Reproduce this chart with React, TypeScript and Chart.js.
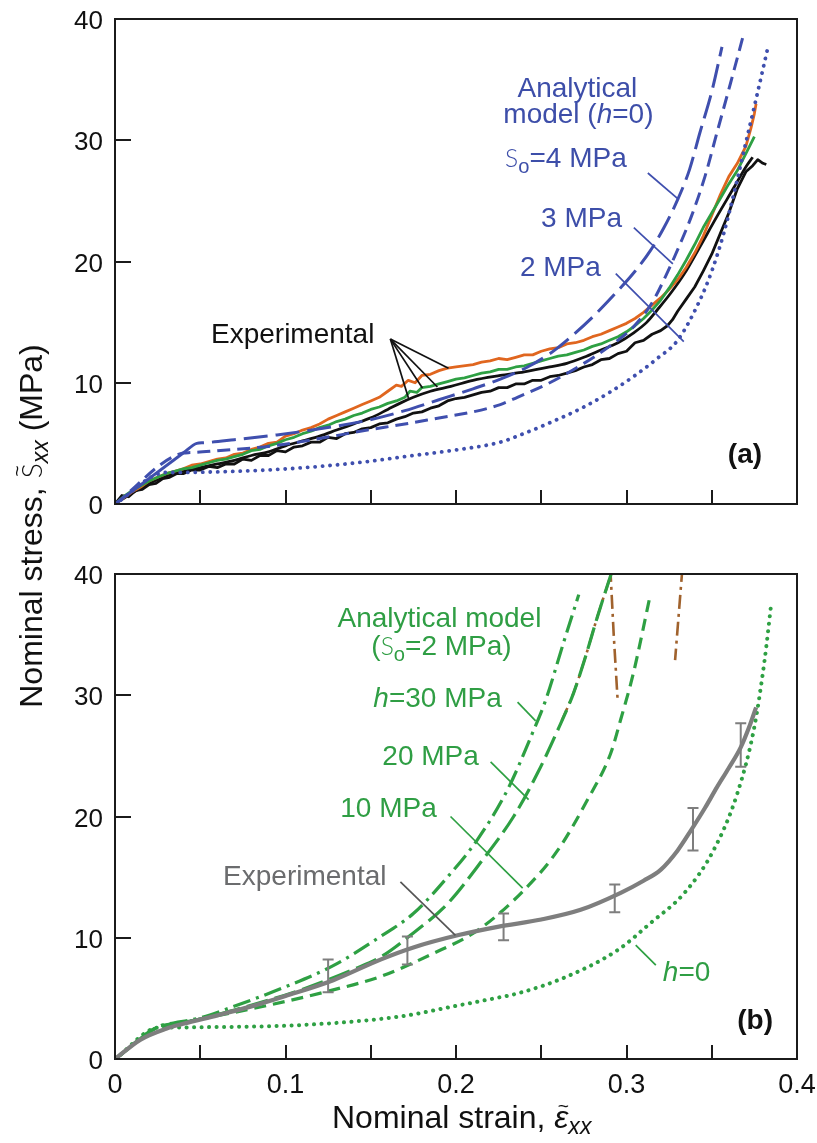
import React, { useEffect, useRef } from "react";
import { Chart, registerables } from "chart.js";

Chart.register(...registerables);

type P = [number, number];

// ---------- axes ----------
const X_MIN = 0;
const X_MAX = 0.4;
const Y_MIN = 0;
const Y_MAX = 40;
const X_TICK_VALUES = [0, 0.1, 0.2, 0.3, 0.4];
const X_TICK_LABELS = ["0", "0.1", "0.2", "0.3", "0.4"];
const X_TICK_MARKS = [0.05, 0.1, 0.15, 0.2, 0.25, 0.3, 0.35];
const Y_TICK_VALUES = [0, 10, 20, 30, 40];
const Y_TICK_LABELS = ["0", "10", "20", "30", "40"];
const Y_TICK_MARKS = [10, 20, 30];

// ---------- panel (a): analytical model, h = 0 ----------
const A_ELASTIC: P[] = [[0, 0], [0.04, 4.2]];
const A_MODEL_S4: P[] = [
  [0.04, 4.2], [0.048, 5.0], [0.052, 5.05], [0.07, 5.3], [0.095, 5.7], [0.12, 6.2], [0.148, 6.9], [0.17, 7.7],
  [0.19, 8.6], [0.21, 9.5], [0.226, 10.3], [0.242, 11.3], [0.255, 12.4], [0.265, 13.5], [0.28, 15.4],
  [0.295, 17.6], [0.305, 19.2], [0.314, 20.9], [0.322, 22.8], [0.33, 25.1], [0.337, 27.6],
  [0.343, 30.6], [0.35, 34.0], [0.356, 37.7],
];
const A_MODEL_S3: P[] = [
  [0, 0], [0.04, 4.2], [0.044, 4.24], [0.06, 4.4], [0.093, 4.8], [0.12, 5.4], [0.148, 6.1], [0.17, 6.6], [0.19, 7.1],
  [0.21, 7.6], [0.226, 8.2], [0.236, 8.8], [0.255, 10.0], [0.275, 11.6], [0.29, 13.0], [0.304, 14.6],
  [0.315, 16.6], [0.324, 19.1], [0.331, 21.3], [0.338, 23.7], [0.346, 27.0], [0.353, 30.6],
  [0.361, 34.7], [0.369, 38.9],
];
const A_MODEL_S2: P[] = [
  [0, 0], [0.03, 2.6], [0.034, 2.6], [0.05, 2.62], [0.089, 2.8], [0.12, 3.1], [0.148, 3.5], [0.175, 4.0], [0.197, 4.4],
  [0.226, 5.1], [0.236, 5.6], [0.255, 6.7], [0.275, 8.0], [0.29, 9.2], [0.304, 10.5], [0.318, 12.0],
  [0.33, 13.5], [0.343, 16.8], [0.35, 19.2], [0.357, 22.3], [0.363, 25.6], [0.369, 29.2],
  [0.376, 33.4], [0.383, 37.7],
];

// ---------- panel (a): experimental ----------
const A_EXP_ORANGE: P[] = [
  [0, 0], [0.005, 0.5], [0.01, 1.0], [0.015, 1.4], [0.02, 1.9], [0.025, 2.2], [0.03, 2.5], [0.035, 2.7],
  [0.04, 2.9], [0.045, 3.2], [0.05, 3.3], [0.055, 3.5], [0.06, 3.7], [0.065, 3.8], [0.07, 4.1],
  [0.075, 4.2], [0.08, 4.5], [0.085, 4.7], [0.09, 5.0], [0.095, 5.1], [0.1, 5.6], [0.105, 5.8],
  [0.11, 6.1], [0.115, 6.3], [0.12, 6.6], [0.125, 7.0], [0.13, 7.3], [0.135, 7.6], [0.14, 7.9],
  [0.145, 8.2], [0.15, 8.5], [0.155, 8.8], [0.16, 9.3], [0.165, 9.8], [0.168, 9.7], [0.172, 10.2],
  [0.176, 10.0], [0.18, 10.6], [0.185, 10.7], [0.19, 11.0], [0.195, 11.2], [0.2, 11.3], [0.21, 11.5],
  [0.215, 11.7], [0.22, 11.8], [0.225, 12.0], [0.23, 11.9], [0.235, 12.1], [0.24, 12.3], [0.245, 12.3],
  [0.25, 12.6], [0.255, 12.8], [0.26, 12.9], [0.265, 13.2], [0.27, 13.3], [0.275, 13.5], [0.28, 13.8],
  [0.285, 14.0], [0.29, 14.3], [0.295, 14.6], [0.3, 14.9], [0.305, 15.3], [0.31, 15.8], [0.315, 16.4],
  [0.32, 17.0], [0.325, 17.7], [0.33, 18.5], [0.335, 19.5], [0.34, 20.7], [0.345, 22.1], [0.35, 23.8],
  [0.355, 25.5], [0.36, 27.0], [0.365, 28.1], [0.37, 29.5], [0.373, 31.0], [0.375, 32.2], [0.376, 33.0],
];
const A_EXP_GREEN: P[] = [
  [0, 0], [0.005, 0.6], [0.01, 1.1], [0.015, 1.5], [0.02, 1.9], [0.025, 2.2], [0.03, 2.5], [0.035, 2.7],
  [0.04, 2.9], [0.045, 3.0], [0.05, 3.2], [0.055, 3.4], [0.06, 3.6], [0.065, 3.7], [0.07, 3.9],
  [0.075, 4.1], [0.08, 4.4], [0.085, 4.5], [0.09, 4.8], [0.095, 5.0], [0.1, 5.3], [0.105, 5.5],
  [0.11, 5.8], [0.115, 6.0], [0.12, 6.3], [0.125, 6.5], [0.13, 6.8], [0.135, 7.0], [0.14, 7.3],
  [0.145, 7.5], [0.15, 7.8], [0.155, 8.0], [0.16, 8.3], [0.165, 8.5], [0.17, 8.8], [0.173, 9.3],
  [0.177, 9.2], [0.18, 9.6], [0.185, 9.7], [0.19, 9.9], [0.195, 10.1], [0.2, 10.3], [0.205, 10.4],
  [0.21, 10.6], [0.215, 10.8], [0.22, 10.9], [0.225, 11.1], [0.23, 11.1], [0.235, 11.3], [0.24, 11.4],
  [0.245, 11.6], [0.25, 11.8], [0.255, 12.0], [0.26, 12.2], [0.265, 12.3], [0.27, 12.5], [0.275, 12.7],
  [0.28, 13.0], [0.285, 13.2], [0.29, 13.5], [0.295, 13.8], [0.3, 14.2], [0.305, 14.7], [0.31, 15.3],
  [0.315, 16.0], [0.32, 16.8], [0.325, 17.8], [0.33, 18.9], [0.335, 20.1], [0.34, 21.4], [0.345, 22.8],
  [0.35, 24.0], [0.355, 25.2], [0.36, 26.4], [0.365, 27.5], [0.37, 28.9], [0.375, 30.3],
];
const A_EXP_BLACK_SMOOTH: P[] = [
  [0, 0], [0.01, 0.9], [0.02, 1.7], [0.03, 2.3], [0.04, 2.7], [0.05, 3.0], [0.06, 3.3], [0.07, 3.6],
  [0.08, 4.0], [0.09, 4.3], [0.1, 4.8], [0.11, 5.2], [0.12, 5.6], [0.13, 6.1], [0.14, 6.6], [0.15, 7.1],
  [0.16, 7.8], [0.167, 8.3], [0.175, 8.8], [0.185, 9.3], [0.197, 9.7], [0.21, 10.2], [0.226, 10.6],
  [0.24, 10.9], [0.255, 11.3], [0.265, 11.6], [0.275, 12.1], [0.285, 12.7], [0.295, 13.3],
  [0.304, 14.1], [0.312, 15.0], [0.318, 16.0], [0.326, 17.4], [0.334, 19.0], [0.343, 21.2],
  [0.353, 23.7], [0.363, 26.1], [0.37, 27.8], [0.374, 28.6],
];
const A_EXP_BLACK_NOISY: P[] = [
  [0, 0], [0.004, 0.7], [0.008, 0.6], [0.012, 1.1], [0.016, 1.2], [0.02, 1.6], [0.024, 1.7],
  [0.028, 2.1], [0.032, 2.2], [0.036, 2.5], [0.04, 2.5], [0.045, 2.8], [0.05, 2.8], [0.055, 3.1],
  [0.06, 3.0], [0.065, 3.3], [0.07, 3.3], [0.075, 3.7], [0.08, 3.6], [0.085, 4.0], [0.09, 4.0],
  [0.095, 4.4], [0.1, 4.3], [0.105, 4.7], [0.11, 4.8], [0.115, 5.1], [0.12, 5.1], [0.125, 5.5],
  [0.13, 5.4], [0.135, 5.8], [0.14, 5.9], [0.145, 6.2], [0.15, 6.3], [0.155, 6.6], [0.16, 6.7],
  [0.165, 7.0], [0.17, 7.2], [0.175, 7.5], [0.18, 7.6], [0.185, 7.9], [0.19, 8.1], [0.195, 8.5],
  [0.2, 8.7], [0.205, 8.8], [0.21, 9.0], [0.215, 9.2], [0.22, 9.3], [0.225, 9.6], [0.23, 9.6],
  [0.235, 9.9], [0.24, 9.9], [0.245, 10.2], [0.25, 10.2], [0.255, 10.5], [0.26, 10.6], [0.265, 10.8],
  [0.27, 11.0], [0.275, 11.3], [0.28, 11.5], [0.285, 11.9], [0.29, 12.0], [0.295, 12.4], [0.3, 12.6],
  [0.305, 13.3], [0.31, 13.5], [0.315, 14.0], [0.32, 14.3], [0.324, 14.7], [0.327, 15.2], [0.33, 15.9],
  [0.335, 16.9], [0.34, 17.9], [0.345, 19.2], [0.35, 20.6], [0.355, 22.3], [0.36, 24.0], [0.365, 26.0],
  [0.37, 27.4], [0.374, 27.9], [0.377, 28.4], [0.38, 28.1], [0.382, 28.0],
];

// ---------- panel (b): analytical model, So = 2 MPa ----------
const B_MODEL_H30: P[] = [
  [0, 0], [0.026, 2.7], [0.03, 2.85], [0.05, 3.4], [0.069, 4.3], [0.099, 5.9], [0.128, 7.7], [0.1557, 10.1],
  [0.175, 12.0], [0.195, 15.0], [0.2126, 18.1], [0.2302, 22.2], [0.2455, 27.1], [0.2526, 29.6],
  [0.263, 34.3], [0.272, 38.3],
];
const B_MODEL_H20: P[] = [
  [0, 0], [0.026, 2.7], [0.03, 2.82], [0.05, 3.3], [0.069, 4.0], [0.109, 5.7], [0.14, 7.4], [0.1557, 8.4],
  [0.175, 10.4], [0.195, 12.8], [0.2144, 16.2], [0.2338, 20.0], [0.2479, 23.6], [0.2596, 27.1],
  [0.269, 30.2], [0.276, 33.2], [0.283, 36.5], [0.291, 40.0],
];
const B_MODEL_H10: P[] = [
  [0, 0], [0.026, 2.7], [0.03, 2.78], [0.05, 3.3], [0.089, 4.4], [0.128, 5.7], [0.1557, 6.8], [0.185, 8.6],
  [0.2126, 10.6], [0.2397, 13.9], [0.2596, 17.2], [0.2772, 21.4], [0.2907, 25.2], [0.2966, 28.0],
  [0.304, 31.8], [0.314, 38.3],
];
const B_MODEL_H0: P[] = [
  [0, 0], [0.026, 2.6], [0.03, 2.6], [0.05, 2.62], [0.109, 2.8], [0.167, 3.5], [0.197, 4.3], [0.226, 5.1],
  [0.236, 5.4], [0.265, 6.8], [0.295, 9.0], [0.314, 11.2], [0.334, 13.7], [0.351, 17.2],
  [0.365, 21.9], [0.375, 27.4], [0.381, 32.9], [0.385, 37.7],
];
const B_BROWN_1: P[] = [[0.2905, 40.5], [0.2925, 35.0], [0.2948, 29.6]];
const B_BROWN_2: P[] = [[0.3328, 40.5], [0.3285, 32.9]];
const B_BROWN_3: P[] = [[0.262, 27.9], [0.269, 30.2], [0.276, 33.2], [0.283, 36.5], [0.291, 40.0]];

// ---------- panel (b): experimental mean + scatter ----------
const B_EXP_MEAN: P[] = [
  [0, 0], [0.015, 1.6], [0.03, 2.5], [0.04, 2.9], [0.06, 3.6], [0.079, 4.3], [0.1, 5.2], [0.128, 6.5],
  [0.1557, 8.2], [0.175, 9.2], [0.2009, 10.2], [0.2244, 10.9], [0.25, 11.5], [0.2731, 12.3],
  [0.2966, 13.7], [0.31, 14.7], [0.32, 15.6], [0.33, 17.2], [0.338, 18.9], [0.346, 20.7],
  [0.353, 22.4], [0.36, 24.0], [0.367, 25.7], [0.372, 27.4], [0.376, 29.0],
];
const B_ERR_STRAIN = [0.125, 0.1715, 0.2279, 0.2931, 0.339, 0.367];
const B_ERR_LOW = [5.5, 7.8, 9.8, 12.1, 17.2, 24.1];
const B_ERR_HIGH = [8.2, 10.1, 12.0, 14.4, 20.7, 27.7];

// ---------- styling ----------
const W = 817;
const H = 1143;
const FONT = '"Liberation Sans", Arial, Helvetica, sans-serif';
const BLUE = "#3f4fae";
const BLUE_TXT = "#3d4ea9";
const GREEN = "#2ea043";
const GREEN_TXT = "#2f9e44";
const ORANGE = "#e0661f";
const BLACK = "#111111";
const GRAY = "#7e7e7e";
const GRAY_TXT = "#6b6c6e";
const BROWN = "#a0622d";
const AXIS = "#1b1b1b";

type Seg = { t: string; k?: "n" | "i" | "b" | "s"; sub?: boolean; tilde?: number };
type Label = { x: number; y: number; align: "left" | "center" | "right"; color: string; size: number; segs: Seg[] };
type Leader = { x1: number; y1: number; x2: number; y2: number; color: string };

const LABELS_A: Label[] = [
  { x: 0.2712, y: 33.57, align: "center", color: BLUE_TXT, size: 28, segs: [{ t: "Analytical" }] },
  { x: 0.2718, y: 31.42, align: "center", color: BLUE_TXT, size: 28, segs: [{ t: "model (" }, { t: "h", k: "i" }, { t: "=0)" }] },
  { x: 0.2288, y: 27.79, align: "left", color: BLUE_TXT, size: 28, segs: [{ t: "S", k: "s" }, { t: "o", sub: true }, { t: "=4 MPa" }] },
  { x: 0.2499, y: 22.85, align: "left", color: BLUE_TXT, size: 28, segs: [{ t: "3 MPa" }] },
  { x: 0.2375, y: 18.8, align: "left", color: BLUE_TXT, size: 28, segs: [{ t: "2 MPa" }] },
  { x: 0.0563, y: 13.28, align: "left", color: BLACK, size: 28, segs: [{ t: "Experimental" }] },
  { x: 0.3795, y: 3.4, align: "right", color: BLACK, size: 28, segs: [{ t: "(a)", k: "b" }] },
];
const LEADERS_A: Leader[] = [
  { x1: 0.3125, y1: 27.3, x2: 0.3307, y2: 25.1, color: BLUE },
  { x1: 0.3043, y1: 22.8, x2: 0.3272, y2: 19.8, color: BLUE },
  { x1: 0.2937, y1: 19.0, x2: 0.3336, y2: 13.4, color: BLUE },
  { x1: 0.1615, y1: 13.6, x2: 0.1956, y2: 11.2, color: BLACK },
  { x1: 0.1615, y1: 13.6, x2: 0.1891, y2: 9.65, color: BLACK },
  { x1: 0.1615, y1: 13.6, x2: 0.1803, y2: 9.57, color: BLACK },
  { x1: 0.1615, y1: 13.6, x2: 0.1721, y2: 8.74, color: BLACK },
];
const LABELS_B: Label[] = [
  { x: 0.1903, y: 35.63, align: "center", color: GREEN_TXT, size: 28, segs: [{ t: "Analytical model" }] },
  { x: 0.1915, y: 33.32, align: "center", color: GREEN_TXT, size: 28, segs: [{ t: "(" }, { t: "S", k: "s" }, { t: "o", sub: true }, { t: "=2 MPa)" }] },
  { x: 0.1515, y: 29.03, align: "left", color: GREEN_TXT, size: 28, segs: [{ t: "h", k: "i" }, { t: "=30 MPa" }] },
  { x: 0.1568, y: 24.25, align: "left", color: GREEN_TXT, size: 28, segs: [{ t: "20 MPa" }] },
  { x: 0.1321, y: 19.96, align: "left", color: GREEN_TXT, size: 28, segs: [{ t: "10 MPa" }] },
  { x: 0.0634, y: 14.35, align: "left", color: GRAY_TXT, size: 28, segs: [{ t: "Experimental" }] },
  { x: 0.3213, y: 6.43, align: "left", color: GREEN_TXT, size: 28, segs: [{ t: "h", k: "i" }, { t: "=0" }] },
  { x: 0.3859, y: 2.47, align: "right", color: BLACK, size: 28, segs: [{ t: "(b)", k: "b" }] },
];
const LEADERS_B: Leader[] = [
  { x1: 0.2361, y1: 29.44, x2: 0.2467, y2: 27.88, color: GREEN },
  { x1: 0.2203, y1: 24.5, x2: 0.2426, y2: 21.4, color: GREEN },
  { x1: 0.1968, y1: 20.0, x2: 0.2391, y2: 14.1, color: GREEN },
  { x1: 0.1674, y1: 14.6, x2: 0.1997, y2: 10.2, color: "#555555" },
  { x1: 0.3054, y1: 9.4, x2: 0.3172, y2: 7.75, color: GREEN },
];

function fontFor(s: Seg, size: number): string {
  const sz = s.sub ? size * 0.72 : size;
  if (s.k === "i") return `italic ${sz}px ${FONT}`;
  if (s.k === "b") return `bold ${sz}px ${FONT}`;
  if (s.k === "s") return `300 ${sz * 0.88}px Lato, ${FONT}`;
  return `${sz}px ${FONT}`;
}

function drawRich(ctx: CanvasRenderingContext2D, segs: Seg[], x: number, y: number, size: number, color: string, align: "left" | "center" | "right") {
  ctx.fillStyle = color;
  ctx.textBaseline = "alphabetic";
  ctx.textAlign = "left";
  const widths = segs.map((s) => {
    ctx.font = fontFor(s, size);
    return ctx.measureText(s.t).width;
  });
  const total = widths.reduce((a, b) => a + b, 0);
  let cx = align === "left" ? x : align === "center" ? x - total / 2 : x - total;
  segs.forEach((s, i) => {
    ctx.font = fontFor(s, size);
    const dy = s.sub ? size * 0.2 : 0;
    ctx.fillText(s.t, cx, y + dy);
    if (s.tilde !== undefined) {
      ctx.font = `${size * 0.6}px ${FONT}`;
      ctx.textAlign = "center";
      ctx.fillText("~", cx + widths[i] / 2 + (s.k === "i" ? 2 : 0), y - s.tilde * size);
      ctx.textAlign = "left";
    }
    cx += widths[i];
  });
}

type Deco = {
  labels: Label[];
  leaders: Leader[];
  xLabels: boolean;
  titles: boolean;
  errorBars: boolean;
};

function decoPlugin(deco: Deco) {
  return {
    id: "deco",
    afterDatasetsDraw(chart: any) {
      const ctx: CanvasRenderingContext2D = chart.ctx;
      const ca = chart.chartArea;
      const xs = chart.scales.x;
      const ys = chart.scales.y;
      ctx.save();

      if (deco.errorBars) {
        ctx.strokeStyle = GRAY;
        ctx.lineWidth = 2;
        B_ERR_STRAIN.forEach((sx, i) => {
          const px = xs.getPixelForValue(sx);
          const p1 = ys.getPixelForValue(B_ERR_LOW[i]);
          const p2 = ys.getPixelForValue(B_ERR_HIGH[i]);
          ctx.beginPath();
          ctx.moveTo(px, p1);
          ctx.lineTo(px, p2);
          ctx.moveTo(px - 5.5, p1);
          ctx.lineTo(px + 5.5, p1);
          ctx.moveTo(px - 5.5, p2);
          ctx.lineTo(px + 5.5, p2);
          ctx.stroke();
        });
      }

      ctx.lineWidth = 1.7;
      deco.leaders.forEach((l) => {
        ctx.strokeStyle = l.color;
        ctx.beginPath();
        ctx.moveTo(xs.getPixelForValue(l.x1), ys.getPixelForValue(l.y1));
        ctx.lineTo(xs.getPixelForValue(l.x2), ys.getPixelForValue(l.y2));
        ctx.stroke();
      });

      ctx.strokeStyle = AXIS;
      ctx.lineWidth = 2;
      ctx.beginPath();
      Y_TICK_MARKS.forEach((v) => {
        const py = Math.round(ys.getPixelForValue(v));
        ctx.moveTo(ca.left, py);
        ctx.lineTo(ca.left + 16, py);
      });
      X_TICK_MARKS.forEach((v) => {
        const px = Math.round(xs.getPixelForValue(v));
        ctx.moveTo(px, ca.bottom);
        ctx.lineTo(px, ca.bottom - 14);
      });
      ctx.stroke();
      ctx.strokeRect(ca.left, ca.top, ca.right - ca.left, ca.bottom - ca.top);

      ctx.fillStyle = BLACK;
      ctx.font = `26px ${FONT}`;
      ctx.textAlign = "right";
      ctx.textBaseline = "alphabetic";
      Y_TICK_VALUES.forEach((v, i) => {
        ctx.fillText(Y_TICK_LABELS[i], ca.left - 12, ys.getPixelForValue(v) + 10);
      });

      if (deco.xLabels) {
        ctx.textAlign = "center";
        ctx.font = `27px ${FONT}`;
        X_TICK_VALUES.forEach((v, i) => {
          ctx.fillText(X_TICK_LABELS[i], xs.getPixelForValue(v), ca.bottom + 34);
        });
      }

      deco.labels.forEach((lb) => {
        drawRich(ctx, lb.segs, xs.getPixelForValue(lb.x), ys.getPixelForValue(lb.y), lb.size, lb.color, lb.align);
      });

      if (deco.titles) {
        drawRich(
          ctx,
          [{ t: "Nominal strain, " }, { t: "ε", k: "i", tilde: 0.5 }, { t: "xx", k: "i", sub: true }],
          332,
          1128,
          32,
          BLACK,
          "left"
        );
        ctx.save();
        ctx.translate(42, 526);
        ctx.rotate(-Math.PI / 2);
        drawRich(
          ctx,
          [{ t: "Nominal stress, " }, { t: "S", k: "s", tilde: 0.6 }, { t: "xx", k: "i", sub: true }, { t: " (MPa)" }],
          0,
          0,
          32,
          BLACK,
          "center"
        );
        ctx.restore();
      }
      ctx.restore();
    },
  };
}

function line(pts: P[], color: string, width: number, dash: number[], smooth: boolean) {
  const dotted = dash.length > 0 && dash[0] < 1;
  return {
    data: pts.map(([x, y]) => ({ x, y })),
    showLine: true,
    borderColor: color,
    backgroundColor: color,
    borderWidth: width,
    borderDash: dash,
    borderCapStyle: dotted ? "round" : "butt",
    borderJoinStyle: "round",
    pointRadius: 0,
    pointHoverRadius: 0,
    tension: 0,
    cubicInterpolationMode: smooth ? "monotone" : "default",
    fill: false,
  };
}

function config(datasets: any[], padding: any, deco: Deco): any {
  return {
    type: "scatter",
    data: { datasets },
    options: {
      responsive: false,
      animation: false,
      devicePixelRatio: 1,
      events: [],
      layout: { padding },
      plugins: { legend: { display: false }, tooltip: { enabled: false }, title: { display: false } },
      scales: {
        x: { type: "linear", min: X_MIN, max: X_MAX, display: false },
        y: { type: "linear", min: Y_MIN, max: Y_MAX, display: false },
      },
    },
    plugins: [decoPlugin(deco)],
  };
}

export default function App() {
  const refA = useRef<HTMLCanvasElement | null>(null);
  const refB = useRef<HTMLCanvasElement | null>(null);

  useEffect(() => {
    if (!refA.current || !refB.current) return;
    const dsA = [
      line(A_MODEL_S2, BLUE, 3.8, [0.1, 7.4], true),
      line(A_MODEL_S3, BLUE, 3, [13, 7], true),
      line(A_MODEL_S4, BLUE, 3, [24, 8], true),
      line(A_ELASTIC, BLUE, 3, [], false),
      line(A_EXP_GREEN, GREEN, 2.8, [], false),
      line(A_EXP_ORANGE, ORANGE, 2.8, [], false),
      line(A_EXP_BLACK_SMOOTH, BLACK, 2.8, [], true),
      line(A_EXP_BLACK_NOISY, BLACK, 2.8, [], false),
    ];
    const dsB = [
      line(B_EXP_MEAN, GRAY, 4.2, [], true),
      line(B_MODEL_H30, GREEN, 3.2, [18, 6, 3, 6], true),
      line(B_MODEL_H20, GREEN, 3.2, [22, 7], true),
      line(B_MODEL_H10, GREEN, 3.2, [12, 7], true),
      line(B_MODEL_H0, GREEN, 4, [0.1, 7.4], true),
      line(B_BROWN_1, BROWN, 2.6, [14, 5, 3, 5], false),
      line(B_BROWN_2, BROWN, 2.6, [14, 5, 3, 5], false),
      line(B_BROWN_3, BROWN, 2.6, [14, 5, 3, 5], true),
    ];
    const chartA = new Chart(
      refA.current,
      config(dsA, { left: 115, right: W - 797, top: 19, bottom: H - 504 }, {
        labels: LABELS_A,
        leaders: LEADERS_A,
        xLabels: false,
        titles: false,
        errorBars: false,
      })
    );
    const chartB = new Chart(
      refB.current,
      config(dsB, { left: 115, right: W - 797, top: 574, bottom: H - 1059 }, {
        labels: LABELS_B,
        leaders: LEADERS_B,
        xLabels: true,
        titles: true,
        errorBars: true,
      })
    );
    return () => {
      chartA.destroy();
      chartB.destroy();
    };
  }, []);

  return (
    <div style={{ position: "absolute", left: 0, top: 0, width: W, height: H, background: "#ffffff", overflow: "hidden" }}>
      <canvas ref={refA} width={W} height={H} style={{ position: "absolute", left: 0, top: 0, width: W, height: H }} />
      <canvas ref={refB} width={W} height={H} style={{ position: "absolute", left: 0, top: 0, width: W, height: H }} />
    </div>
  );
}
